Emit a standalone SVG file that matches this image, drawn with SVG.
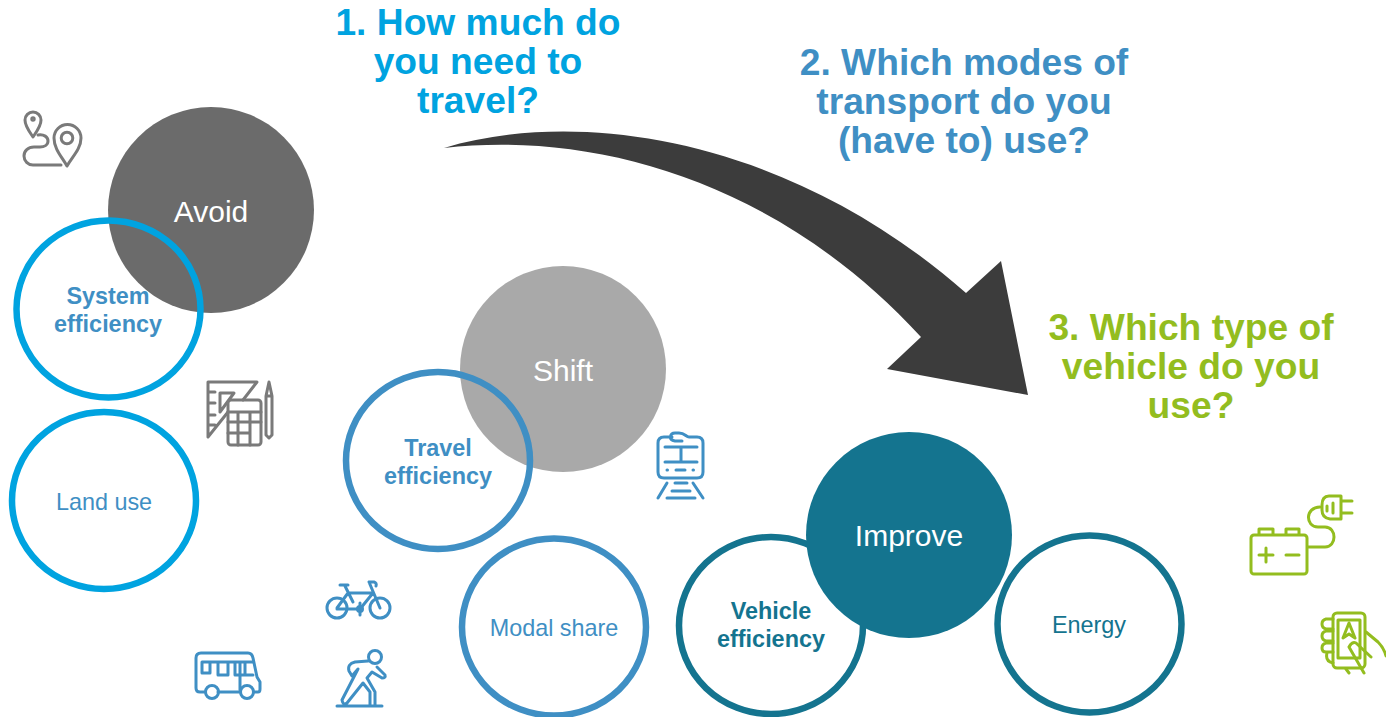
<svg xmlns="http://www.w3.org/2000/svg" width="1386" height="717" viewBox="0 0 1386 717">
<style>
text{font-family:"Liberation Sans",Arial,sans-serif;text-anchor:middle}
.h{font-size:37.200px;font-weight:700}
.big{font-size:30px;fill:#fff}
.b{font-size:23.400px;font-weight:700}
.n{font-size:23.400px}
.ring{fill:none;stroke-width:6.500}
.ic{fill:none;stroke-linecap:round;stroke-linejoin:round;stroke-width:3}
.gy{stroke:#7a7a7a}.bl{stroke:#3f8fc4}.gr{stroke:#93bd1f}
.c1{stroke:#00a3e0}.c2{stroke:#3f8fc4}.c3{stroke:#14748f}
</style>
<rect width="1386" height="717" fill="#fff"/>
<g id="connectors">
<path d="M444 148C580 107 790 138 966 293L1001 261L1028 395L887 369L921 337C775 178 590 131 444 148Z" fill="#3c3c3c"/>
</g>
<g id="q1"><text class="h" fill="#00a3e0" x="478" y="35">1. How much do</text><text class="h" fill="#00a3e0" x="478" y="74">you need to</text><text class="h" fill="#00a3e0" x="478" y="113">travel?</text></g>
<g id="q2"><text class="h" fill="#3f8fc4" x="964" y="75">2. Which modes of</text><text class="h" fill="#3f8fc4" x="964" y="114">transport do you</text><text class="h" fill="#3f8fc4" x="964" y="153">(have to) use?</text></g>
<g id="q3"><text class="h" fill="#93bd1f" x="1191" y="340">3. Which type of</text><text class="h" fill="#93bd1f" x="1191" y="379">vehicle do you</text><text class="h" fill="#93bd1f" x="1191" y="418">use?</text></g>
<g id="avoid"><circle cx="211" cy="210" r="103" fill="#6b6b6b"/><text class="big" x="211" y="222">Avoid</text></g>
<g id="system-efficiency"><ellipse class="ring c1" cx="108.500" cy="309" rx="92" ry="88.500"/><text class="b" fill="#3f8fc4" x="108" y="304">System</text><text class="b" fill="#3f8fc4" x="108" y="332">efficiency</text></g>
<g id="land-use"><ellipse class="ring c1" cx="104" cy="500.500" rx="92" ry="88.500"/><text class="n" fill="#3f8fc4" x="104" y="510">Land use</text></g>
<g id="shift"><circle cx="563" cy="369" r="103" fill="#a9a9a9"/><text class="big" x="563" y="381">Shift</text></g>
<g id="travel-efficiency"><ellipse class="ring c2" cx="438" cy="460.500" rx="92" ry="88.500"/><text class="b" fill="#3f8fc4" x="438" y="456">Travel</text><text class="b" fill="#3f8fc4" x="438" y="484">efficiency</text></g>
<g id="modal-share"><ellipse class="ring c2" cx="554" cy="627" rx="92" ry="88.500"/><text class="n" fill="#3f8fc4" x="554" y="636">Modal share</text></g>
<g id="vehicle-efficiency"><ellipse class="ring c3" cx="771" cy="625.500" rx="92" ry="88.500"/><text class="b" fill="#14748f" x="771" y="619">Vehicle</text><text class="b" fill="#14748f" x="771" y="647">efficiency</text></g>
<g id="improve"><circle cx="909" cy="535" r="103" fill="#14748f"/><text class="big" x="909" y="546">Improve</text></g>
<g id="energy"><ellipse class="ring c3" cx="1089.500" cy="624" rx="92" ry="88.500"/><text class="n" fill="#14748f" x="1089" y="633">Energy</text></g>
<g id="icon-route" class="ic gy">
<path d="M33 137C29 131 25 126 25 120A8 8 0 0 1 41 120C41 126 37 131 33 137Z"/><circle cx="33" cy="119" r="1.200"/>
<path d="M67 166C62 157 54 149 54 138A13.500 13.500 0 0 1 81 138C81 149 72 157 67 166Z"/><circle cx="67" cy="138" r="5.800"/>
<path d="M38 135C44 134 48 137 48 141C48 145 44 147 40 147H34C28 147 24 151 24 156C24 161 28 165 33 165H61"/>
</g>
<g id="icon-planning" class="ic gy">
<path d="M228 412L208 437V382H257L243 400M208 392H215M208 403H215M208 415H215M208 425H215"/>
<path d="M220 393H234L220 412Z"/>
<rect x="228" y="400" width="33" height="45" rx="3"/>
<path d="M228 412H261M238 412V445M250 412V445M228 422H261M228 433H250"/>
<path d="M266 396V435L269 438L272 435V396ZM266 396L269 382L272 396"/>
</g>
<g id="icon-train" class="ic bl">
<path d="M672 437H664Q658 437 658 443V472Q658 478 664 478H697Q703 478 703 472V443Q703 437 697 437H689C686 437 685 433 679 433H675C670 433 668 440 675 441H682"/>
<path d="M665 447H697M665 462H697M681 447V462M667 470H667.500M676 470H685M693 470H693.500"/>
<path d="M667 483L658 498M693 483L703 498M675 483H687M672 491H690M667 498H695"/>
</g>
<g id="icon-bike" class="ic bl">
<circle cx="337" cy="608" r="10"/><circle cx="380" cy="608" r="10"/>
<path d="M340 585H348M345 586L353 602M348 593L337 608M348 593H373M337 609H360M373 593L360 609M369 582L380 608M369 582H374Q377 583 376 586"/>
<circle cx="360" cy="609" r="2.500"/><path d="M360 603V605M360 613V615"/>
</g>
<g id="icon-walker" class="ic bl">
<circle cx="375" cy="657" r="6.500"/>
<path d="M337 706H382M368 661L355 662Q347 664 349 671L352 676L358 669L342 700Q343 706 347 703L363 683L370 692V705M375 705V692L367 678L372 672L382 678Q386 678 385 675L377 667"/>
</g>
<g id="icon-bus" class="ic bl">
<path d="M205 692H200Q196 692 196 688V658Q196 653 201 653H248Q252 653 253 658L257 677L260 682V689Q260 692 258 692H254M218 692H240"/>
<circle cx="212" cy="692" r="6.500"/><circle cx="247" cy="692" r="6.500"/>
<path d="M202 662H253M202 662V673H210V663M218 663V675H228V663M235 663V675H253M240 663V690M245 663V675"/>
</g>
<g id="icon-battery" class="ic gr">
<rect x="1251" y="535" width="56" height="39" rx="3"/>
<path d="M1259 534V529H1273V534M1286 534V529H1299V534M1259 555H1273M1266 548V562M1286 555H1299M1308 547H1325C1337 547 1337 527 1325 527H1318C1305 527 1305 507 1320 507"/>
<path d="M1322 505Q1322 496 1329 496H1341V519H1330Q1322 518 1322 510ZM1341 501H1352M1341 513H1352M1327 506V511M1333 503V513"/>
</g>
<g id="icon-phone" class="ic gr">
<rect x="1333" y="613" width="32" height="55" rx="4"/>
<rect x="1338" y="620" width="22" height="38"/>
<path d="M1343 638L1349 623L1355 638L1349 634ZM1333 619H1326Q1322 620 1322 624Q1322 628 1326 629H1333M1333 631H1326Q1322 632 1322 636Q1322 640 1326 641H1333M1333 643H1326Q1322 644 1322 648Q1322 652 1326 652H1333M1327 653Q1325 661 1333 663M1366 632L1378 642C1383 647 1385 652 1386 656M1371 657L1356 643Q1352 641 1349 647L1364 673M1346 669L1349 673"/>
</g>
</svg>
